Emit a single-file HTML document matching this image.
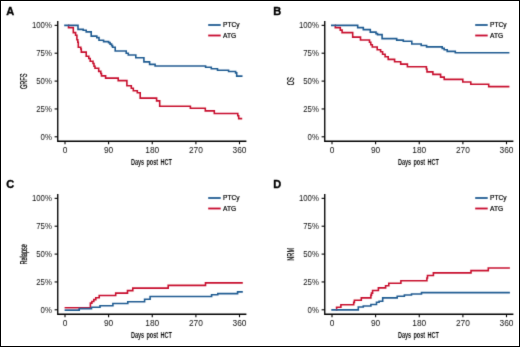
<!DOCTYPE html>
<html><head><meta charset="utf-8"><style>
html,body{margin:0;padding:0;background:#fff;}
svg{display:block;will-change:transform;}
text{font-family:"Liberation Sans",sans-serif;}
.lt{font-weight:bold;font-size:11px;fill:#000;stroke:#000;stroke-width:0.35;}
.tl{font-size:8.4px;fill:#111;}
.yt{text-rendering:geometricPrecision;font-size:10px;fill:#000;font-weight:normal;stroke:#000;stroke-width:0.22;}
.tt{font-size:9.6px;fill:#111;font-weight:bold;stroke:#111;stroke-width:0;word-spacing:1.3px;}
.lgt{font-size:6.6px;fill:#000;stroke:#000;stroke-width:0.2;}
.ax{fill:none;stroke:#000;stroke-width:1.35;}
.tk{fill:none;stroke:#000;stroke-width:1.1;}
.lg{fill:none;stroke-width:1.8;}
.cv{fill:none;stroke-width:1.6;stroke-linejoin:miter;}
</style></head><body>
<svg width="520" height="347" viewBox="0 0 520 347">
<defs><filter id="bl" x="0" y="0" width="520" height="347" filterUnits="userSpaceOnUse"><feConvolveMatrix order="3" kernelMatrix="0.0100 0.0800 0.0100 0.0800 0.6400 0.0800 0.0100 0.0800 0.0100" edgeMode="none" preserveAlpha="false"/></filter></defs>
<g filter="url(#bl)">
<g transform="translate(0,0)">
<text x="6.2" y="14.9" class="lt">A</text>
<path d="M57.75 21 V141.2 H246.4" class="ax"/>
<path d="M54.6 25.35 H57.75" class="tk"/>
<text class="tl" text-anchor="end" transform="translate(51.9,28.15) scale(0.93,1)">100%</text>
<path d="M54.6 53.2 H57.75" class="tk"/>
<text class="tl" text-anchor="end" transform="translate(51.9,56) scale(0.93,1)">75%</text>
<path d="M54.6 81.1 H57.75" class="tk"/>
<text class="tl" text-anchor="end" transform="translate(51.9,83.9) scale(0.93,1)">50%</text>
<path d="M54.6 108.95 H57.75" class="tk"/>
<text class="tl" text-anchor="end" transform="translate(51.9,111.75) scale(0.93,1)">25%</text>
<path d="M54.6 136.8 H57.75" class="tk"/>
<text class="tl" text-anchor="end" transform="translate(51.9,139.6) scale(0.93,1)">0%</text>
<path d="M65 141.2 V144.2" class="tk"/>
<text x="65" y="152.7" class="tl" text-anchor="middle">0</text>
<path d="M108.6 141.2 V144.2" class="tk"/>
<text x="108.6" y="152.7" class="tl" text-anchor="middle">90</text>
<path d="M152.25 141.2 V144.2" class="tk"/>
<text x="152.25" y="152.7" class="tl" text-anchor="middle">180</text>
<path d="M195.9 141.2 V144.2" class="tk"/>
<text x="195.9" y="152.7" class="tl" text-anchor="middle">270</text>
<path d="M239.5 141.2 V144.2" class="tk"/>
<text x="239.5" y="152.7" class="tl" text-anchor="middle">360</text>
<text class="tt" text-anchor="middle" transform="translate(151.4,165.2) scale(0.58,1)">Days post HCT</text>
<text class="yt" text-anchor="middle" transform="translate(27,81.3) rotate(-90) scale(0.56,1)">GRFS</text>
<path d="M208.2 25 H220.7" class="lg" stroke="#1f5b92"/>
<path d="M208.2 35.5 H220.7" class="lg" stroke="#c8102e"/>
<text x="223" y="26.7" class="lgt">PTCy</text>
<text x="223" y="37.8" class="lgt">ATG</text>
</g>
<g transform="translate(267,0)">
<text x="6.2" y="14.9" class="lt">B</text>
<path d="M57.75 21 V141.2 H246.4" class="ax"/>
<path d="M54.6 25.35 H57.75" class="tk"/>
<text class="tl" text-anchor="end" transform="translate(51.9,28.15) scale(0.93,1)">100%</text>
<path d="M54.6 53.2 H57.75" class="tk"/>
<text class="tl" text-anchor="end" transform="translate(51.9,56) scale(0.93,1)">75%</text>
<path d="M54.6 81.1 H57.75" class="tk"/>
<text class="tl" text-anchor="end" transform="translate(51.9,83.9) scale(0.93,1)">50%</text>
<path d="M54.6 108.95 H57.75" class="tk"/>
<text class="tl" text-anchor="end" transform="translate(51.9,111.75) scale(0.93,1)">25%</text>
<path d="M54.6 136.8 H57.75" class="tk"/>
<text class="tl" text-anchor="end" transform="translate(51.9,139.6) scale(0.93,1)">0%</text>
<path d="M65 141.2 V144.2" class="tk"/>
<text x="65" y="152.7" class="tl" text-anchor="middle">0</text>
<path d="M108.6 141.2 V144.2" class="tk"/>
<text x="108.6" y="152.7" class="tl" text-anchor="middle">90</text>
<path d="M152.25 141.2 V144.2" class="tk"/>
<text x="152.25" y="152.7" class="tl" text-anchor="middle">180</text>
<path d="M195.9 141.2 V144.2" class="tk"/>
<text x="195.9" y="152.7" class="tl" text-anchor="middle">270</text>
<path d="M239.5 141.2 V144.2" class="tk"/>
<text x="239.5" y="152.7" class="tl" text-anchor="middle">360</text>
<text class="tt" text-anchor="middle" transform="translate(151.4,165.2) scale(0.58,1)">Days post HCT</text>
<text class="yt" text-anchor="middle" transform="translate(27,81.3) rotate(-90) scale(0.56,1)">OS</text>
<path d="M208.2 25 H220.7" class="lg" stroke="#1f5b92"/>
<path d="M208.2 35.5 H220.7" class="lg" stroke="#c8102e"/>
<text x="223" y="26.7" class="lgt">PTCy</text>
<text x="223" y="37.8" class="lgt">ATG</text>
</g>
<g transform="translate(0,173)">
<text x="6.2" y="14.9" class="lt">C</text>
<path d="M57.75 21 V141.2 H246.4" class="ax"/>
<path d="M54.6 25.35 H57.75" class="tk"/>
<text class="tl" text-anchor="end" transform="translate(51.9,28.15) scale(0.93,1)">100%</text>
<path d="M54.6 53.2 H57.75" class="tk"/>
<text class="tl" text-anchor="end" transform="translate(51.9,56) scale(0.93,1)">75%</text>
<path d="M54.6 81.1 H57.75" class="tk"/>
<text class="tl" text-anchor="end" transform="translate(51.9,83.9) scale(0.93,1)">50%</text>
<path d="M54.6 108.95 H57.75" class="tk"/>
<text class="tl" text-anchor="end" transform="translate(51.9,111.75) scale(0.93,1)">25%</text>
<path d="M54.6 136.8 H57.75" class="tk"/>
<text class="tl" text-anchor="end" transform="translate(51.9,139.6) scale(0.93,1)">0%</text>
<path d="M65 141.2 V144.2" class="tk"/>
<text x="65" y="152.7" class="tl" text-anchor="middle">0</text>
<path d="M108.6 141.2 V144.2" class="tk"/>
<text x="108.6" y="152.7" class="tl" text-anchor="middle">90</text>
<path d="M152.25 141.2 V144.2" class="tk"/>
<text x="152.25" y="152.7" class="tl" text-anchor="middle">180</text>
<path d="M195.9 141.2 V144.2" class="tk"/>
<text x="195.9" y="152.7" class="tl" text-anchor="middle">270</text>
<path d="M239.5 141.2 V144.2" class="tk"/>
<text x="239.5" y="152.7" class="tl" text-anchor="middle">360</text>
<text class="tt" text-anchor="middle" transform="translate(151.4,165.2) scale(0.58,1)">Days post HCT</text>
<text class="yt" text-anchor="middle" transform="translate(27,81.3) rotate(-90) scale(0.56,1)">Relapse</text>
<path d="M208.2 25 H220.7" class="lg" stroke="#1f5b92"/>
<path d="M208.2 35.5 H220.7" class="lg" stroke="#c8102e"/>
<text x="223" y="26.7" class="lgt">PTCy</text>
<text x="223" y="37.8" class="lgt">ATG</text>
</g>
<g transform="translate(267,173)">
<text x="6.2" y="14.9" class="lt">D</text>
<path d="M57.75 21 V141.2 H246.4" class="ax"/>
<path d="M54.6 25.35 H57.75" class="tk"/>
<text class="tl" text-anchor="end" transform="translate(51.9,28.15) scale(0.93,1)">100%</text>
<path d="M54.6 53.2 H57.75" class="tk"/>
<text class="tl" text-anchor="end" transform="translate(51.9,56) scale(0.93,1)">75%</text>
<path d="M54.6 81.1 H57.75" class="tk"/>
<text class="tl" text-anchor="end" transform="translate(51.9,83.9) scale(0.93,1)">50%</text>
<path d="M54.6 108.95 H57.75" class="tk"/>
<text class="tl" text-anchor="end" transform="translate(51.9,111.75) scale(0.93,1)">25%</text>
<path d="M54.6 136.8 H57.75" class="tk"/>
<text class="tl" text-anchor="end" transform="translate(51.9,139.6) scale(0.93,1)">0%</text>
<path d="M65 141.2 V144.2" class="tk"/>
<text x="65" y="152.7" class="tl" text-anchor="middle">0</text>
<path d="M108.6 141.2 V144.2" class="tk"/>
<text x="108.6" y="152.7" class="tl" text-anchor="middle">90</text>
<path d="M152.25 141.2 V144.2" class="tk"/>
<text x="152.25" y="152.7" class="tl" text-anchor="middle">180</text>
<path d="M195.9 141.2 V144.2" class="tk"/>
<text x="195.9" y="152.7" class="tl" text-anchor="middle">270</text>
<path d="M239.5 141.2 V144.2" class="tk"/>
<text x="239.5" y="152.7" class="tl" text-anchor="middle">360</text>
<text class="tt" text-anchor="middle" transform="translate(151.4,165.2) scale(0.58,1)">Days post HCT</text>
<text class="yt" text-anchor="middle" transform="translate(27,81.3) rotate(-90) scale(0.56,1)">NRM</text>
<path d="M208.2 25 H220.7" class="lg" stroke="#1f5b92"/>
<path d="M208.2 35.5 H220.7" class="lg" stroke="#c8102e"/>
<text x="223" y="26.7" class="lgt">PTCy</text>
<text x="223" y="37.8" class="lgt">ATG</text>
</g>
<path d="M68.0 25.4 H68.5 V27.6 H73.3 V32.6 H75.6 V35.3 H76.9 V39.7 H77.8 V42.2 H78.3 V47.2 H80.8 V49.0 H81.3 V52.1 H86.2 V56.3 H88.8 V58.5 H90.2 V61.2 H93.0 V63.5 H94.0 V66.2 H95.0 V68.3 H98.7 V71.4 H100.8 V73.5 H101.5 V75.9 H105.6 V78.1 H118.2 V80.6 H126.9 V85.7 H131.3 V88.2 H133.3 V90.7 H137.3 V92.7 H140.2 V98.1 H156.6 V100.9 H159.7 V106.2 H190.4 V108.3 H205.3 V110.9 H214.3 V113.5 H237.8 V115.8 H238.7 V118.6 H242.2" class="cv" stroke="#c8102e"/>
<path d="M64.2 25.4 H78.0 V29.4 H83.2 V30.3 H86.2 V31.9 H91.2 V36.1 H96.8 V37.6 H99.0 V40.3 H103.6 V41.6 H108.6 V42.6 H110.1 V44.1 H111.6 V45.6 H112.6 V47.3 H115.2 V51.0 H126.2 V53.2 H128.3 V55.0 H135.8 V57.8 H143.9 V61.9 H149.6 V64.4 H155.1 V66.0 H205.6 V67.3 H211.3 V68.8 H217.5 V70.2 H228.6 V71.5 H235.6 V72.9 H236.7 V76.1 H242.5" class="cv" stroke="#1f5b92"/>
<path d="M334.8 25.2 H335.3 V27.6 H340.3 V30.1 H342.1 V32.6 H352.7 V37.1 H360.5 V40.0 H369.5 V42.2 H370.8 V44.7 H372.3 V47.0 H377.2 V49.7 H380.6 V51.7 H382.6 V54.2 H385.1 V56.8 H388.2 V59.4 H394.6 V61.8 H400.7 V64.1 H407.4 V66.8 H426.4 V69.0 H427.0 V71.9 H432.9 V74.4 H440.6 V77.1 H444.2 V79.4 H462.8 V82.0 H470.8 V84.3 H488.7 V86.6 H509.4" class="cv" stroke="#c8102e"/>
<path d="M331.0 25.4 H357.7 V27.6 H363.3 V29.6 H370.3 V32.1 H376.0 V33.6 H377.5 V34.6 H382.1 V38.6 H396.7 V40.1 H403.3 V41.3 H411.8 V44.0 H421.2 V45.5 H426.6 V46.9 H442.2 V48.4 H444.2 V49.7 H447.2 V51.4 H455.3 V52.8 H509.4" class="cv" stroke="#1f5b92"/>
<path d="M64.6 307.8 H90.4 V303.1 H91.9 V301.5 H93.8 V299.6 H95.8 V297.7 H99.2 V295.5 H115.7 V293.1 H127.5 V290.6 H132.8 V288.1 H168.2 V285.4 H205.5 V282.9 H242.8" class="cv" stroke="#c8102e"/>
<path d="M64.6 310.1 H79.2 V308.6 H91.5 V307.3 H100.0 V305.7 H112.9 V303.5 H127.8 V301.7 H144.6 V299.2 H150.1 V296.5 H211.6 V294.8 H217.8 V293.6 H237.6 V291.9 H242.8" class="cv" stroke="#1f5b92"/>
<path d="M336.1 309.9 H336.6 V307.2 H340.9 V304.7 H353.7 V302.4 H354.4 V300.2 H361.3 V297.9 H370.9 V295.1 H371.5 V293.1 H372.6 V290.5 H378.4 V287.9 H385.6 V285.7 H388.8 V283.3 H400.9 V280.8 H426.9 V278.0 H427.5 V275.5 H433.4 V272.9 H471.0 V270.6 H488.3 V268.0 H509.9" class="cv" stroke="#c8102e"/>
<path d="M331.3 309.9 H358.3 V307.0 H363.3 V306.0 H370.9 V304.5 H376.5 V302.2 H379.1 V301.2 H382.7 V297.9 H397.2 V296.3 H404.4 V295.0 H411.5 V294.0 H421.5 V292.6 H509.9" class="cv" stroke="#1f5b92"/>
</g>
<rect x="0.5" y="0.5" width="519" height="346" fill="none" stroke="#000" stroke-width="1"/>
</svg>
</body></html>
